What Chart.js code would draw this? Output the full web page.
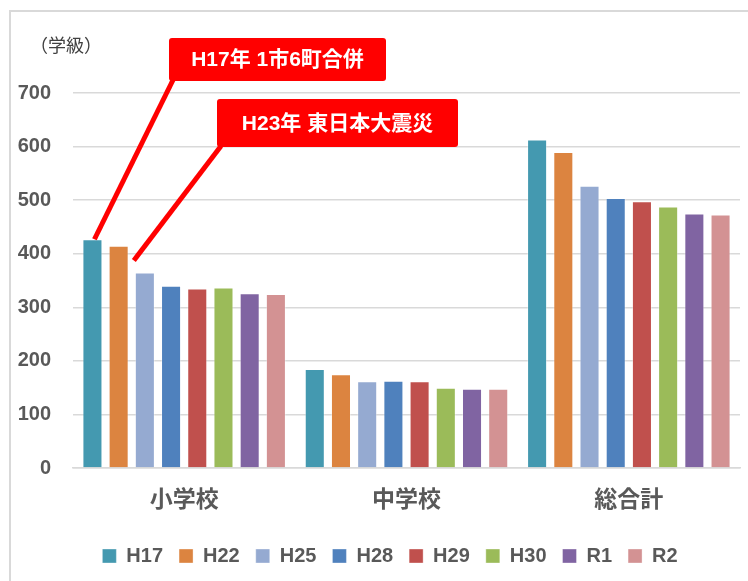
<!DOCTYPE html>
<html>
<head>
<meta charset="utf-8">
<script src="https://cdn.jsdelivr.net/npm/chart.js@4/dist/chart.umd.min.js"></script>
<style>
  html, body { margin: 0; padding: 0; background: #fff; }
  #wrap { position: relative; width: 748px; height: 581px; overflow: hidden; }
  #frame { position: absolute; left: 9px; top: 10px; width: 900px; height: 700px;
           border-left: 2px solid #d9d9d9; border-top: 2px solid #d9d9d9; }
  #chart { position: absolute; left: 0; top: 0; }
</style>
</head>
<body>
<div id="wrap">
  <div id="frame"></div>
  <canvas id="chart" width="748" height="581"></canvas>
</div>
<script>
// categories on the x axis
const categories = ['小学校', '中学校', '総合計'];

// one series per year
const years = ['H17', 'H22', 'H25', 'H28', 'H29', 'H30', 'R1', 'R2'];

// class counts per year: [小学校, 中学校, 総合計]
const h17 = [427, 185, 613];
const h22 = [415, 175, 590];
const h25 = [365, 162, 527];
const h28 = [340, 163, 504];
const h29 = [335, 162, 498];
const h30 = [337, 150, 488];
const r1  = [326, 148, 475];
const r2  = [325, 148, 473];

const seriesValues = [h17, h22, h25, h28, h29, h30, r1, r2];

// Excel-like palette
const seriesColors = [
    '#4499b0', // H17 teal
    '#dc8440', // H22 orange
    '#95aad1', // H25 light blue
    '#4f81bd', // H28 blue
    '#c0504d', // H29 red
    '#9bbb59', // H30 green
    '#8064a2', // R1 purple
    '#d39293'  // R2 pink
];

const yTicks = [0, 100, 200, 300, 400, 500, 600, 700];

const FONT = '"Liberation Sans", "Noto Sans CJK JP", sans-serif';
const TEXT_GRAY = '#595959';

// call-out boxes (layout only); each points to a bar (dataset index, category index)
const callouts = [
    { text: 'H17年 1市6町合併', box: { x: 169, y: 38, w: 217, h: 43 }, target: [0, 0], dx: 2, dy: 0 },
    { text: 'H23年 東日本大震災', box: { x: 217, y: 99, w: 241, h: 48 }, target: [2, 0], dx: -11, dy: -12 }
];

// draws the unit label and the red call-outs on top of the chart
const annotationPlugin = {
    id: 'annotations',
    afterLayout(chart) {
        // nudge the legend a little to the right, like the original
        if (chart.legend) {
            chart.legend.left += 20;
            chart.legend.right += 20;
        }
    },
    afterDatasetsDraw(chart) {
        const ctx = chart.ctx;
        ctx.save();

        // unit label
        ctx.fillStyle = '#404040';
        ctx.font = '18px ' + FONT;
        ctx.textAlign = 'left';
        ctx.textBaseline = 'middle';
        ctx.fillText('（学級）', 30, 47);

        callouts.forEach(c => {
            const bar = chart.getDatasetMeta(c.target[0]).data[c.target[1]];
            const half = bar.width / 2;
            const endX = c.dx < 0 ? bar.x - half + c.dx + 10 : bar.x + c.dx;

            // pointer line
            ctx.strokeStyle = '#ff0000';
            ctx.lineWidth = 5;
            ctx.lineCap = 'butt';
            ctx.beginPath();
            ctx.moveTo(c.box.x + 4, c.box.y + c.box.h - 1);
            ctx.lineTo(endX, bar.y + c.dy);
            ctx.stroke();

            // box
            ctx.fillStyle = '#ff0000';
            ctx.beginPath();
            ctx.roundRect(c.box.x, c.box.y, c.box.w, c.box.h, 3);
            ctx.fill();

            // text
            ctx.fillStyle = '#ffffff';
            ctx.font = 'bold 21px ' + FONT;
            ctx.textAlign = 'center';
            ctx.textBaseline = 'middle';
            ctx.fillText(c.text, c.box.x + c.box.w / 2, c.box.y + c.box.h / 2 + 1);
        });

        ctx.restore();
    }
};

const datasets = years.map((year, i) => ({
    label: year,
    data: seriesValues[i],
    backgroundColor: seriesColors[i],
    borderColor: 'rgba(255,255,255,0.35)',
    borderWidth: 1,
    categoryPercentage: 0.943,
    barPercentage: 0.765
}));

new Chart(document.getElementById('chart'), {
    type: 'bar',
    data: { labels: categories, datasets: datasets },
    options: {
        responsive: false,
        animation: false,
        layout: { padding: { top: 93, right: 8, left: 0, bottom: 5 } },
        plugins: {
            legend: {
                position: 'bottom',
                labels: {
                    boxWidth: 14,
                    boxHeight: 14,
                    padding: 16,
                    color: TEXT_GRAY,
                    font: { family: FONT, size: 20, weight: 'bold' }
                }
            },
            tooltip: { enabled: false }
        },
        scales: {
            x: {
                grid: { display: false, drawTicks: false },
                border: { display: true, color: '#d9d9d9', width: 1.5 },
                ticks: {
                    padding: 19,
                    color: TEXT_GRAY,
                    font: { family: FONT, size: 23, weight: 'bold' }
                },
                afterFit(scale) { scale.height = 62; }
            },
            y: {
                min: 0,
                max: 700,
                afterBuildTicks(scale) { scale.ticks = yTicks.map(v => ({ value: v })); },
                grid: { color: '#d9d9d9', lineWidth: 1.5, drawTicks: false },
                border: { display: false },
                ticks: {
                    padding: 22,
                    color: TEXT_GRAY,
                    font: { family: FONT, size: 20, weight: 'bold' }
                },
                afterFit(scale) { scale.width = 73; }
            }
        }
    },
    plugins: [annotationPlugin]
});
</script>
</body>
</html>
